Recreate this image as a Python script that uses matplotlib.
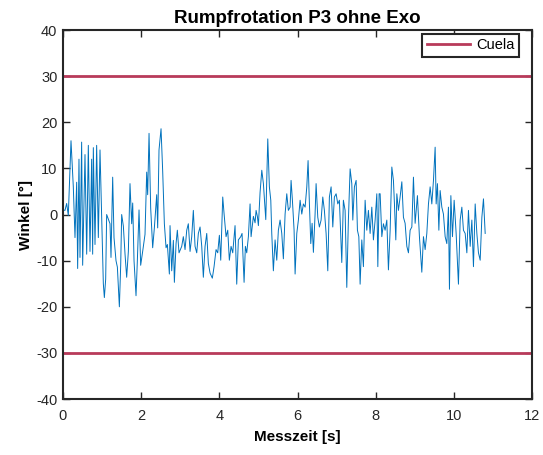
import matplotlib
matplotlib.use("Agg")
import matplotlib.pyplot as plt

plt.rcParams['font.family'] = ['Liberation Sans', 'DejaVu Sans']
plt.rcParams['axes.unicode_minus'] = False

title = "Rumpfrotation P3 ohne Exo"
xlabel = "Messzeit [s]"
ylabel = "Winkel [°]"
legend_label = "Cuela"
limit_values = [30, -30]
xticks = [0, 2, 4, 6, 8, 10, 12]
yticks = [-40, -30, -20, -10, 0, 10, 20, 30, 40]

time_s = [
    0.0, 0.051, 0.094, 0.136, 0.205, 0.264, 0.307, 0.35, 0.375, 0.409, 0.435, 0.477, 0.503,
    0.563, 0.606, 0.648, 0.691, 0.733, 0.759, 0.776, 0.819, 0.861, 0.904, 0.947, 0.989,
    1.032, 1.058, 1.092, 1.117, 1.16, 1.203, 1.228, 1.271, 1.305, 1.356, 1.391, 1.442,
    1.476, 1.501, 1.544, 1.587, 1.629, 1.672, 1.714, 1.757, 1.783, 1.817, 1.868, 1.902,
    1.945, 1.987, 2.038, 2.098, 2.141, 2.166, 2.201, 2.243, 2.294, 2.337, 2.397, 2.422,
    2.456, 2.508, 2.55, 2.593, 2.636, 2.67, 2.721,
    2.738, 2.781, 2.823, 2.849, 2.892, 2.925, 2.968, 3.037, 3.078, 3.122, 3.165, 3.206,
    3.25, 3.293, 3.334, 3.378, 3.421, 3.462, 3.506, 3.549, 3.59, 3.634, 3.677, 3.718,
    3.762, 3.82, 3.864, 3.915, 3.958, 4.0, 4.035, 4.086, 4.12, 4.171, 4.214, 4.255,
    4.299, 4.342, 4.401, 4.444, 4.486, 4.547, 4.58, 4.632, 4.665, 4.7, 4.742, 4.785,
    4.811, 4.87, 4.913, 4.939, 4.972, 4.998, 5.041, 5.085, 5.126, 5.187, 5.238, 5.279,
    5.315, 5.34, 5.381, 5.425, 5.468, 5.509,
    5.553, 5.596, 5.637, 5.681, 5.724, 5.765, 5.809, 5.834, 5.868, 5.911, 5.937, 5.98,
    6.021, 6.065, 6.108, 6.149, 6.193, 6.236, 6.269, 6.303, 6.338, 6.372, 6.405, 6.448,
    6.474, 6.517, 6.558, 6.602, 6.645, 6.686, 6.73, 6.773, 6.814, 6.858, 6.901, 6.942,
    6.986, 7.029, 7.07, 7.106, 7.131, 7.172, 7.216, 7.259, 7.3, 7.344, 7.387, 7.413,
    7.454, 7.498, 7.531, 7.567, 7.6, 7.643, 7.684, 7.728, 7.771, 7.812, 7.856, 7.899,
    7.94, 7.984, 8.027, 8.053, 8.086,
    8.112, 8.155, 8.196, 8.239, 8.283, 8.324, 8.368, 8.411, 8.452, 8.478, 8.513, 8.539,
    8.58, 8.623, 8.667, 8.708, 8.751, 8.795, 8.836, 8.879, 8.923, 8.964, 9.007, 9.066,
    9.117, 9.178, 9.22, 9.263, 9.306, 9.348, 9.391, 9.434, 9.476, 9.519, 9.545, 9.578,
    9.614, 9.647, 9.69, 9.731, 9.775, 9.818, 9.859, 9.885, 9.921, 9.962, 10.005, 10.056,
    10.115, 10.159, 10.202, 10.243, 10.287, 10.33, 10.371, 10.415, 10.458, 10.499,
    10.543, 10.586, 10.627, 10.671, 10.714, 10.755, 10.799,
]

angle_deg = [
    1.0, 0.9, 2.4, -0.2, 16.0, 6.0, -5.0, 7.0, -11.7, 12.0, -9.3, 15.7, -11.0,
    13.0, -8.6, 15.0, -8.0, 12.0, -8.6, 14.5, -6.5, 15.0, -5.0, 14.0, -0.2,
    -15.0, -18.0, -14.0, 0.0, -1.0, -2.0, -9.3, 8.1, -5.0, -10.0, -11.4, -20.0,
    -11.0, 0.0, -2.5, -8.6, -13.6, -8.0, 6.7, -2.0, 2.5, -10.0, -17.6, -10.0,
    1.0, -11.0, -8.0, -4.3, 9.2, 4.3, 17.6, 1.4, -7.2, -2.9, 4.3, -2.9,
    14.0, 18.6, 9.4, -2.0, -7.2, -6.5, -12.9,
    -2.4, -12.2, -5.6, -14.7, -6.3, -3.4, -8.3, -6.9, -4.8, -7.6, -3.4, -2.0,
    -8.0, -4.8, 0.9, -6.9, -8.3, -4.1, -2.7, -6.9, -13.6, -6.9, -4.1, -10.6,
    -12.7, -13.8, -11.3, -7.6, -8.3, -4.5, -9.9, 3.8, 0.2, -4.8, -3.4, -9.9,
    -6.9, -8.3, -2.4, -15.1, -5.5, -4.8, -4.1, -14.7, -6.9, -8.3, -4.8, 2.3,
    -4.8, -0.4, -1.8, 0.9, -0.4, -2.4, 4.8, 9.6, 6.7, -1.1, 16.4, 6.0,
    3.1, -4.1, -12.2, -5.5, -9.9, -3.4,
    -1.2, -4.1, -9.6, 0.1, 4.5, 0.9, 1.6, 7.4, 3.1, -3.4, -12.9, -4.1,
    -1.2, 3.1, 0.1, 2.3, 1.6, 6.0, 11.7, 2.3, -6.3, -1.9, -8.2, 0.1,
    6.7, -0.6, -2.7, -1.2, 3.8, 0.9, -4.1, -12.2, 3.8, 6.0, -2.7, 3.8,
    4.5, 2.3, 3.1, -4.8, -10.4, 3.1, 0.9, -15.8, -1.2, 9.9, 6.7, -1.2,
    6.0, 7.4, -3.4, -4.8, -15.1, -5.5, -11.3, 3.1, -3.4, 0.9, -4.1, 1.6,
    -5.5, -1.2, 4.5, -11.3, 4.5,
    4.5, -4.8, -2.0, -3.4, -1.2, -12.0, -3.4, 10.3, 7.4, 2.3, -5.5, 4.5,
    0.9, 3.8, 7.1, -0.6, -1.9, -6.9, -8.3, -3.4, -2.7, 8.1, -1.9, 4.1,
    -4.8, -12.5, -4.8, -7.6, -4.1, 2.3, 6.0, 2.3, 7.4, 14.6, 2.3, 6.7,
    -3.4, 5.2, 1.6, 0.1, -4.8, -6.3, 1.6, -16.2, 4.1, -4.8, 3.1, -4.1,
    -15.1, -1.2, 1.6, -3.4, -4.1, -8.3, 0.9, -6.9, -1.2, -11.3,
    2.3, -4.1, -8.3, -9.9, -0.6, 3.4, -4.1,
]

fig = plt.figure(figsize=(5.43, 4.55), dpi=100)
ax = fig.add_axes([0.116, 0.123, 0.864, 0.811])

ax.plot(time_s, angle_deg, color='#0072BD', linewidth=0.7)
for i, val in enumerate(limit_values):
    ax.axhline(val, color='#B83A5A', linewidth=2.0,
               label=legend_label if i == 0 else None)

ax.set_xlim(0, 12)
ax.set_ylim(-40, 40)
ax.set_xticks(xticks)
ax.set_yticks(yticks)
ax.tick_params(direction='in', top=True, right=True, length=5, width=1.0,
               labelsize=10.5, colors='#262626')
ax.tick_params(axis='x', pad=7)
ax.tick_params(axis='y', pad=4)
for s in ax.spines.values():
    s.set_linewidth(1.5)
    s.set_color('#262626')

ax.set_title(title, fontsize=13.5, fontweight='bold', pad=5)
ax.set_xlabel(xlabel, fontsize=11, fontweight='bold', labelpad=5)
ax.set_ylabel(ylabel, fontsize=11, fontweight='bold', labelpad=2)

leg = ax.legend(loc='upper right', bbox_to_anchor=(0.972, 0.989),
                fontsize=10.5, fancybox=False, framealpha=1,
                edgecolor='#262626', borderpad=0.3, handlelength=3.0,
                handletextpad=0.4, borderaxespad=0.0)
leg.get_frame().set_linewidth(1.5)

fig.savefig('out.png', dpi=100)
